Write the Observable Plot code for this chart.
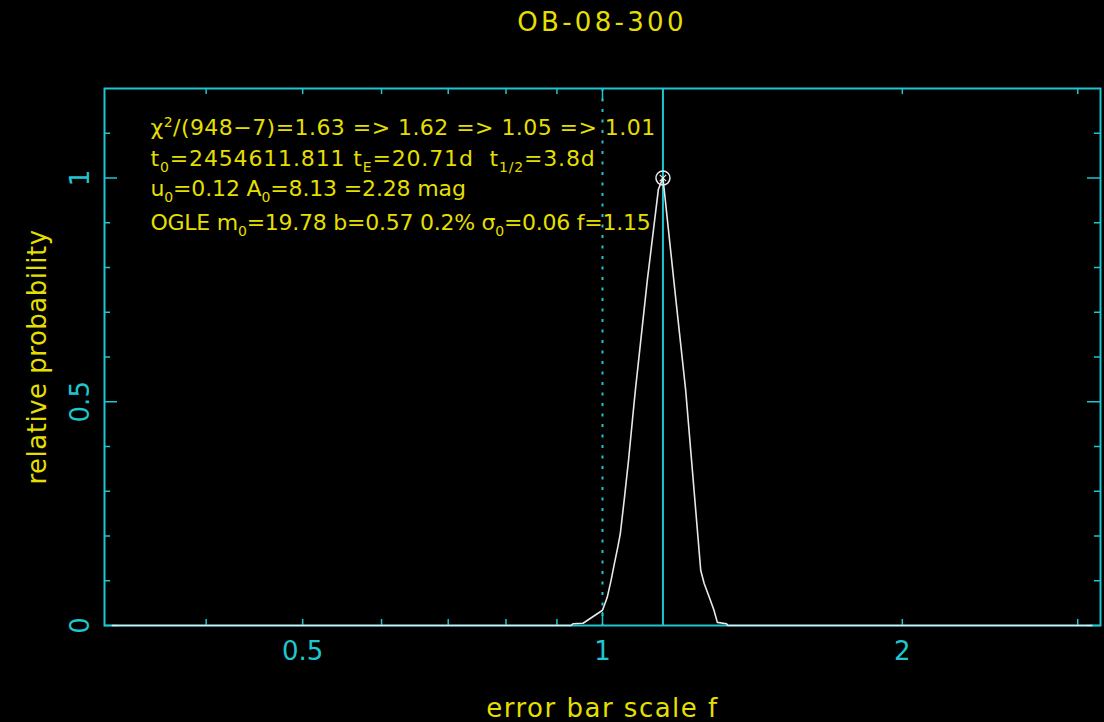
<!DOCTYPE html>
<html>
<head>
<meta charset="utf-8">
<script src="https://cdn.jsdelivr.net/npm/d3@7"></script>
<script src="https://cdn.jsdelivr.net/npm/@observablehq/plot@0.6"></script>
<style>
  html, body { margin: 0; padding: 0; background: #000; }
  body { width: 1104px; height: 722px; overflow: hidden; }
  #title { height: 44px; line-height: 44px; padding-left: 100px; width: 1004px; text-align: center;
           color: #e4df00; font-family: "DejaVu Sans", sans-serif; font-size: 26px; letter-spacing: 3.3px; }
  svg text { white-space: pre; }
</style>
</head>
<body>
<div id="title"></div>
<div id="chart"></div>
<script>
// ---- data ----
const title = "OB-08-300";
const xLabel = "error bar scale f";
const yLabel = "relative probability";

// relative probability curve vs error-bar scale f
const fValues = [0.322, 0.93, 0.934, 0.956, 0.977, 1.0, 1.011, 1.020, 1.028, 1.036, 1.042, 1.052, 1.062, 1.074, 1.079, 1.109, 1.138, 1.15,
                 1.183, 1.212, 1.255, 1.265, 1.280, 1.294, 1.304, 1.332, 1.336, 3.1];
const probValues = [0, 0, 0.004, 0.005, 0.019, 0.034, 0.063, 0.101, 0.139, 0.175, 0.205, 0.285, 0.369, 0.481, 0.526, 0.77, 0.975, 1.0,
                    0.742, 0.526, 0.123, 0.094, 0.063, 0.034, 0.007, 0.004, 0, 0];

const peakF = [1.15];
const peakP = [1.0];
const refF = [1.0];

const xTickLabels = [0.5, 1, 2];
const xMajorTicks = [1];
const xMinorTicks = [0.4, 0.5, 0.6, 0.7, 0.8, 0.9, 2, 3];
const yTickLabels = [0, 0.5, 1];
const yMajorTicks = [0, 0.5, 1];
const yMinorTicks = [0.1, 0.2, 0.3, 0.4, 0.6, 0.7, 0.8, 0.9, 1.1];

const annotations = [
  "χ^{2}/(948−7)=1.63 => 1.62 => 1.05 => 1.01",
  "t_{0}=2454611.811 t_{E}=20.71d  t_{1/2}=3.8d",
  "u_{0}=0.12 A_{0}=8.13 =2.28 mag",
  "OGLE m_{0}=19.78 b=0.57 0.2% σ_{0}=0.06 f=1.15"
];

// ---- style ----
const cyan = "#1fc6cf";
const yellow = "#e4df00";
const white = "#e8e8e8";
const annoOffsets = [46, 77, 107, 141];
const annoSpacing = [0.45, 0.85, -0.15, -0.25];

document.getElementById("title").textContent = title;

const W = 1104, H = 678, mL = 104, mR = 4, mT = 44, mB = 97;
const innerW = W - mL - mR, innerH = H - mT - mB;

const curve = fValues.map((f, i) => ({f, p: probValues[i]}));
const peak = peakF.map((f, i) => ({f, p: peakP[i]}));

const plot = Plot.plot({
  width: W, height: H,
  marginLeft: mL, marginRight: mR, marginTop: mT, marginBottom: mB,
  style: {background: "#000", fontFamily: "DejaVu Sans, sans-serif"},
  x: {type: "log", domain: [Math.pow(10, -0.5), Math.pow(10, 0.5)], axis: null},
  y: {domain: [0, 1.2], axis: null},
  marks: [
    Plot.frame({stroke: cyan, strokeWidth: 2}),
    // x ticks (bottom and top, inward)
    Plot.tickX(xMinorTicks, {x: d => d, stroke: cyan, strokeWidth: 1.5, insetTop: innerH - 6}),
    Plot.tickX(xMinorTicks, {x: d => d, stroke: cyan, strokeWidth: 1.5, insetBottom: innerH - 6}),
    Plot.tickX(xMajorTicks, {x: d => d, stroke: cyan, strokeWidth: 1.5, insetTop: innerH - 13}),
    Plot.tickX(xMajorTicks, {x: d => d, stroke: cyan, strokeWidth: 1.5, insetBottom: innerH - 13}),
    // y ticks (left and right, inward)
    Plot.tickY(yMinorTicks, {y: d => d, stroke: cyan, strokeWidth: 1.5, insetRight: innerW - 6}),
    Plot.tickY(yMinorTicks, {y: d => d, stroke: cyan, strokeWidth: 1.5, insetLeft: innerW - 6}),
    Plot.tickY(yMajorTicks, {y: d => d, stroke: cyan, strokeWidth: 1.5, insetRight: innerW - 13}),
    Plot.tickY(yMajorTicks, {y: d => d, stroke: cyan, strokeWidth: 1.5, insetLeft: innerW - 13}),
    // reference lines
    Plot.ruleX(refF, {x: d => d, stroke: cyan, strokeWidth: 2, strokeDasharray: "3,7.5"}),
    Plot.ruleX(peakF, {x: d => d, stroke: cyan, strokeWidth: 2}),
    // curve
    Plot.line(curve, {x: "f", y: "p", stroke: white, strokeWidth: 1.6}),
    Plot.dot(peak, {x: "f", y: "p", r: 7, stroke: white, strokeWidth: 1.5}),
    Plot.dot(peak, {x: "f", y: "p", r: 3, symbol: "times", stroke: white, strokeWidth: 1.2}),
    // tick labels
    Plot.text(xTickLabels, {x: d => d, frameAnchor: "bottom", dy: 26, text: d => String(d),
      fill: cyan, fontSize: 26, lineAnchor: "middle", textAnchor: "middle"}),
    Plot.text(yTickLabels, {y: d => d, frameAnchor: "left", dx: -24, rotate: -90, text: d => String(d),
      fill: cyan, fontSize: 26, lineAnchor: "middle", textAnchor: "middle"}),
    // axis labels
    Plot.text([xLabel], {frameAnchor: "bottom", dy: 83, text: d => d, fill: yellow, fontSize: 26,
      lineAnchor: "middle", textAnchor: "middle"}),
    Plot.text([yLabel], {frameAnchor: "left", dx: -67, rotate: -90, text: d => d, fill: yellow, fontSize: 26,
      lineAnchor: "middle", textAnchor: "middle"}),
    // annotations
    ...annotations.map((t, i) => Plot.text([t], {frameAnchor: "top-left", dx: 46, dy: annoOffsets[i],
      text: d => d, fill: yellow, fontSize: 22, textAnchor: "start", lineAnchor: "bottom"}))
  ]
});

// rich text: _{sub} and ^{sup}
d3.select(plot).selectAll("text").each(function () {
  const s = this.textContent;
  if (s === xLabel) this.style.letterSpacing = "1.5px";
  if (s === yLabel) this.style.letterSpacing = "0.5px";
  const ai = annotations.indexOf(s);
  if (ai >= 0) this.style.letterSpacing = annoSpacing[ai] + "px";
  if (!/[_^]\{/.test(s)) return;
  const el = d3.select(this);
  this.textContent = "";
  let shift = 0;
  const add = (txt, kind) => {
    const t = el.append("tspan").text(txt);
    const target = kind === "_" ? 6 : kind === "^" ? -8 : 0;
    if (target !== shift) { t.attr("dy", target - shift); shift = target; }
    if (kind) t.attr("font-size", 14);
  };
  const re = /([_^])\{([^}]*)\}/g;
  let last = 0, m;
  while ((m = re.exec(s))) {
    if (m.index > last) add(s.slice(last, m.index), null);
    add(m[2], m[1]);
    last = re.lastIndex;
  }
  if (last < s.length) add(s.slice(last), null);
});

document.getElementById("chart").appendChild(plot);
</script>
</body>
</html>
